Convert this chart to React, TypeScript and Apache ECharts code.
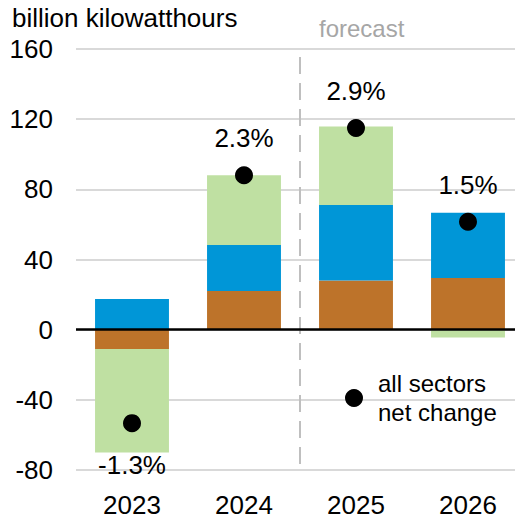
import React, { useEffect, useRef } from "react";
import * as echarts from "echarts";

const years = ["2023", "2024", "2025", "2026"];
const industrial = [-11, 22, 28, 29.5];
const commercial = [17.5, 26.3, 43, 37.2];
const residential = [-59, 39.7, 44.8, -4.4];
const netChange = [-53.3, 88, 115, 61.5];
const pctLabels = ["-1.3%", "2.3%", "2.9%", "1.5%"];
const yMin = -80;
const yMax = 160;
const yInterval = 40;

const FONT = "'Liberation Sans', Arial, sans-serif";

export default function App() {
  const ref = useRef<HTMLDivElement>(null);
  useEffect(() => {
    if (!ref.current) return;
    const chart = echarts.init(ref.current, undefined, { renderer: "svg" });
    const barCommon = {
      type: "bar",
      stack: "total",
      barCategoryGap: "34%",
      emphasis: { disabled: true },
    };
    chart.setOption({
      animation: false,
      textStyle: { fontFamily: FONT },
      title: [
        {
          text: "billion kilowatthours",
          left: 12,
          top: 5,
          padding: 0,
          textStyle: { fontFamily: FONT, fontSize: 26, fontWeight: "normal", color: "#000" },
        },
        {
          text: "forecast",
          left: 319,
          top: 16,
          padding: 0,
          textStyle: { fontFamily: FONT, fontSize: 24, fontWeight: "normal", color: "#a6a6a6" },
        },
      ],
      legend: {
        left: 345,
        top: 369,
        padding: 0,
        data: [{ name: "all sectors\nnet change", icon: "circle" }],
        itemWidth: 38,
        itemHeight: 18,
        textStyle: { fontFamily: FONT, fontSize: 24, lineHeight: 29, color: "#000" },
        selectedMode: false,
      },
      grid: { left: 76, top: 49, right: 0, bottom: 52 },
      xAxis: {
        type: "category",
        data: years,
        axisLine: { show: false },
        axisTick: { show: false },
        axisLabel: { fontFamily: FONT, fontSize: 26, color: "#000", margin: 22 },
      },
      yAxis: {
        type: "value",
        min: yMin,
        max: yMax,
        interval: yInterval,
        axisLine: { show: false },
        axisTick: { show: false },
        axisLabel: { fontFamily: FONT, fontSize: 26, color: "#000", margin: 23 },
        splitLine: { lineStyle: { color: "#d9d9d9", width: 2 } },
      },
      series: [
        {
          ...barCommon,
          name: "industrial",
          data: industrial,
          itemStyle: { color: "#bd732a" },
          markLine: {
            silent: true,
            symbol: "none",
            label: { show: false },
            lineStyle: { color: "#000", width: 2.5, type: "solid" },
            data: [{ yAxis: 0 }],
          },
        },
        { ...barCommon, name: "commercial", data: commercial, itemStyle: { color: "#0096d7" } },
        { ...barCommon, name: "residential", data: residential, itemStyle: { color: "#bfe0a2" } },
        {
          type: "scatter",
          name: "all sectors\nnet change",
          symbol: "circle",
          symbolSize: 18,
          itemStyle: { color: "#000", opacity: 1 },
          emphasis: { disabled: true },
          z: 5,
          data: netChange.map((v, i) => ({
            value: v,
            label: {
              show: true,
              formatter: pctLabels[i],
              position: "inside",
              offset: [0, v < 0 ? 42 : -37],
              fontFamily: FONT,
              fontSize: 26,
              color: "#000",
            },
          })),
        },
      ],
    });
    const x1 = chart.convertToPixel({ xAxisIndex: 0 }, years[1]) as number;
    const x2 = chart.convertToPixel({ xAxisIndex: 0 }, years[2]) as number;
    const yTop = chart.convertToPixel({ yAxisIndex: 0 }, 155.5) as number;
    const yBot = chart.convertToPixel({ yAxisIndex: 0 }, yMin) as number;
    const xm = (x1 + x2) / 2;
    chart.setOption({
      graphic: [
        {
          type: "line",
          silent: true,
          z: 0,
          shape: { x1: xm, y1: yTop, x2: xm, y2: yBot },
          style: { stroke: "#bfbfbf", lineWidth: 2, lineDash: [17, 9] },
        },
      ],
    });
    return () => chart.dispose();
  }, []);
  return (
    <div
      style={{
        position: "absolute",
        left: 0,
        top: 0,
        width: 515,
        height: 522,
        overflow: "hidden",
      }}
    >
      <div ref={ref} style={{ width: 524, height: 522 }} />
    </div>
  );
}
